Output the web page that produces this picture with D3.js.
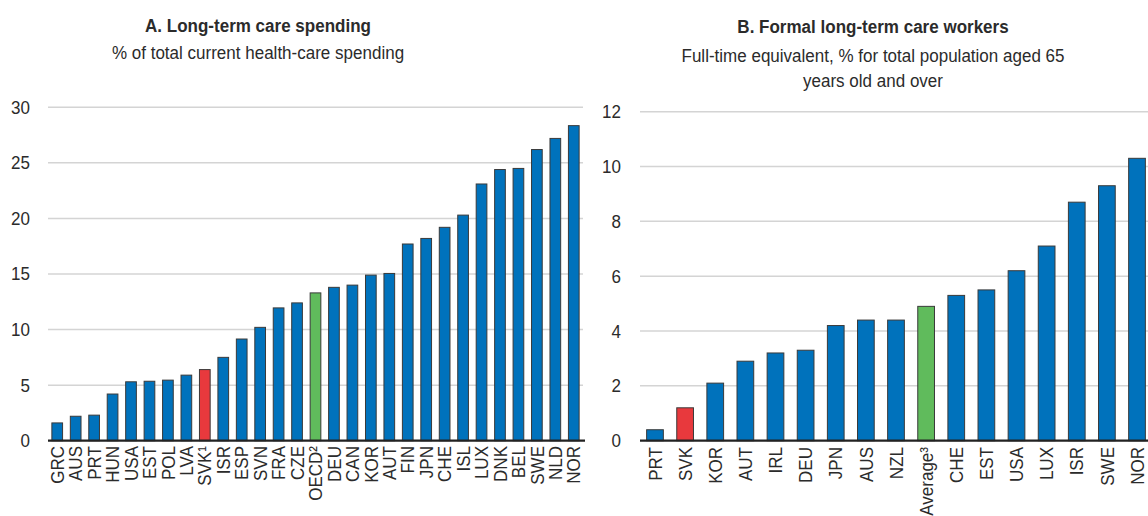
<!DOCTYPE html>
<html>
<head>
<meta charset="utf-8">
<script src="https://cdn.jsdelivr.net/npm/d3@7"></script>
<style>
  html, body { margin: 0; padding: 0; background: #fff; }
  svg { display: block; }
  text { font-family: "Liberation Sans", Arial, Helvetica, sans-serif; fill: #2b2b2b; }
</style>
</head>
<body>
<svg id="chart" width="1148" height="516"></svg>
<script>
// ---------- Data ----------
const catsA = ["GRC","AUS","PRT","HUN","USA","EST","POL","LVA","SVK¹","ISR","ESP","SVN","FRA","CZE","OECD²","DEU","CAN","KOR","AUT","FIN","JPN","CHE","ISL","LUX","DNK","BEL","SWE","NLD","NOR"];
const valsA = [1.6,2.2,2.3,4.2,5.3,5.35,5.45,5.9,6.4,7.5,9.15,10.2,11.95,12.4,13.3,13.8,14.0,14.9,15.05,17.7,18.2,19.2,20.3,23.1,24.4,24.5,26.2,27.2,28.35];
const ticksA = [0,5,10,15,20,25,30];

const catsB = ["PRT","SVK","KOR","AUT","IRL","DEU","JPN","AUS","NZL","Average³","CHE","EST","USA","LUX","ISR","SWE","NOR"];
const valsB = [0.4,1.2,2.1,2.9,3.2,3.3,4.2,4.4,4.4,4.9,5.3,5.5,6.2,7.1,8.7,9.3,10.3];
const ticksB = [0,2,4,6,8,10,12];

const highlightRed = ["SVK¹","SVK"];
const highlightGreen = ["OECD²","Average³"];

const titleA = "A. Long-term care spending";
const subA = ["% of total current health-care spending"];
const titleB = "B. Formal long-term care workers";
const subB = ["Full-time equivalent, % for total population aged 65", "years old and over"];

// ---------- Styles ----------
const BLUE = "#0072BC", RED = "#E8393D", GREEN = "#60BB5C";
const FS = 18.5;      // font size
const SX = 0.92;      // condensed width factor
const svg = d3.select("#chart");

function colorFor(c) {
  if (highlightRed.includes(c)) return RED;
  if (highlightGreen.includes(c)) return GREEN;
  return BLUE;
}

function panel(cfg) {
  const g = svg.append("g");
  const x = d3.scaleBand().domain(cfg.cats).range(cfg.xr)
    .paddingInner(cfg.pi).paddingOuter(cfg.po);
  const y = d3.scaleLinear().domain([0, cfg.max]).range([440.7, cfg.top]);

  // gridlines
  g.selectAll("line.grid").data(cfg.ticks.filter(t => t > 0)).join("line")
    .attr("x1", cfg.gx[0]).attr("x2", cfg.gx[1])
    .attr("y1", d => y(d)).attr("y2", d => y(d))
    .attr("stroke", "#d4d4d4").attr("stroke-width", 1.5);

  // y tick labels
  g.selectAll("text.yt").data(cfg.ticks).join("text")
    .attr("transform", d => `translate(${cfg.ylx},${y(d)})scale(${SX},1)`)
    .attr("dy", "0.35em")
    .attr("text-anchor", "end").attr("font-size", FS)
    .text(d => d);

  // bars
  g.selectAll("rect.bar").data(cfg.cats).join("rect")
    .attr("x", d => x(d)).attr("width", x.bandwidth())
    .attr("y", (d, i) => y(cfg.vals[i]))
    .attr("height", (d, i) => y(0) - y(cfg.vals[i]))
    .attr("fill", d => colorFor(d))
    .attr("stroke", "#3a3a3a").attr("stroke-width", 1);

  // baseline
  g.append("line")
    .attr("x1", cfg.gx[0]).attr("x2", cfg.bx1)
    .attr("y1", y(0)).attr("y2", y(0))
    .attr("stroke", "#222").attr("stroke-width", 2.2);

  // x labels
  g.selectAll("text.xl").data(cfg.cats).join("text")
    .attr("transform", d => `translate(${x(d) + x.bandwidth() / 2},${cfg.lx})rotate(-90)scale(${SX},1)`)
    .attr("dy", "0.36em")
    .attr("text-anchor", "end").attr("font-size", FS)
    .text(d => d);

  // titles
  g.append("text")
    .attr("transform", `translate(${cfg.tx},${cfg.ty})scale(${SX},1)`)
    .attr("text-anchor", "middle").attr("font-size", FS).attr("font-weight", "bold")
    .text(cfg.title);
  cfg.sub.forEach((s, i) => {
    g.append("text")
      .attr("transform", `translate(${cfg.tx},${cfg.sy + i * 25})scale(${SX},1)`)
      .attr("text-anchor", "middle").attr("font-size", FS)
      .text(s);
  });
}

panel({
  cats: catsA, vals: valsA, ticks: ticksA, max: 30, top: 107.3,
  xr: [48, 583], pi: 0.42, po: 0.21, gx: [48, 583], bx1: 585, ylx: 30,
  lx: 446, tx: 258, ty: 32, sy: 59, title: titleA, sub: subA
});

panel({
  cats: catsB, vals: valsB, ticks: ticksB, max: 12, top: 111.7,
  xr: [640, 1152], pi: 0.445, po: 0.22, gx: [640, 1150], bx1: 1150, ylx: 621,
  lx: 447, tx: 873, ty: 33, sy: 62, title: titleB, sub: subB
});
</script>
</body>
</html>
